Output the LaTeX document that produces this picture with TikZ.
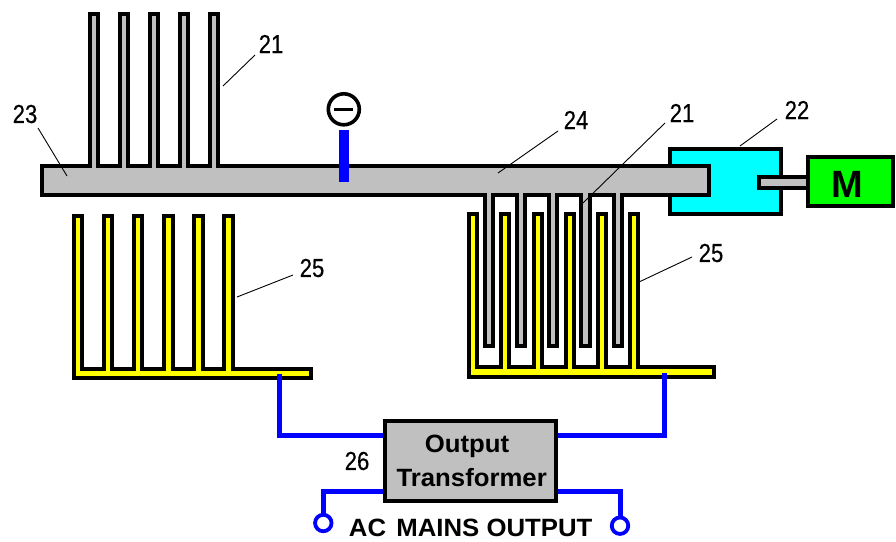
\documentclass[tikz,border=0pt]{standalone}
\usepackage{fontspec}
\setmainfont{Liberation Sans}
\newfontfamily\tagfont[FakeBold=0.5]{Liberation Sans}
\definecolor{mgray}{HTML}{C0C0C0}
\definecolor{mcyan}{HTML}{00FFFF}
\definecolor{myellow}{HTML}{FFFF00}
\definecolor{mgreen}{HTML}{00FF00}
\definecolor{mblue}{HTML}{0000FF}
\tikzset{
  outl/.style={draw=black,line width=4pt,line join=miter},
  box/.style={outl,rectangle,inner sep=0pt,outer sep=0pt,minimum width=#1},
  tag/.style={inner sep=0pt,font=\tagfont\fontsize{26}{26}\selectfont,xscale=.85,transform shape},
  caption/.style={inner sep=0pt,font=\fontsize{25}{25}\selectfont\bfseries,xscale=1.03,transform shape},
  leader/.style={draw=black,line width=.9pt},
  wire/.style={draw=mblue,line width=5pt,line join=miter},
  ring/.style={circle,draw=mblue,line width=3.8pt,fill=white,minimum size=16.5pt,inner sep=0pt,outer sep=0pt}
}
\begin{document}
\begin{tikzpicture}[x=1pt,y=-1pt]
\useasboundingbox[fill=white] (0,0) rectangle (896,541);
% left yellow comb
\foreach \c in {78.2,108.3,138.4,168.5,198.5,228.5}{
  \draw[outl,fill=myellow] (\c-4.05,375) -- (\c-4.05,216.2) -- (\c+4.05,216.2) -- (\c+4.05,375) -- cycle;}
\node[box=236.5,fill=myellow,minimum height=9.5pt,anchor=north west] (yl) at (74,368.6) {};
\foreach \c in {78.2,108.3,138.4,168.5,198.5,228.5}{
  \fill[myellow] (\c-2.05,360) rectangle (\c+2.05,374);}
% right yellow comb
\foreach \c in {473.2,505.4,537.6,569.8,602,633.6}{
  \draw[outl,fill=myellow] (\c-4.05,374) -- (\c-4.05,214) -- (\c+4.05,214) -- (\c+4.05,374) -- cycle;}
\node[box=245,fill=myellow,minimum height=9.5pt,anchor=north west] (yr) at (468.5,367) {};
\foreach \c in {473.2,505.4,537.6,569.8,602,633.6}{
  \fill[myellow] (\c-2.05,360) rectangle (\c+2.05,373);}
% cyan coupling
\node[box=111,fill=mcyan,minimum height=65.5pt,anchor=north west] (coupling) at (670,148.6) {};
% upper teeth
\foreach \c in {94.3,124.3,154.3,184.3,214.3}{
  \draw[outl,fill=mgray] (\c-4.05,175) -- (\c-4.05,14) -- (\c+4.05,14) -- (\c+4.05,175) -- cycle;}
% lower teeth
\foreach \c in {488.7,521,553.2,585.5,617.7}{
  \draw[outl,fill=mgray] (\c-4.05,185) -- (\c-4.05,346) -- (\c+4.05,346) -- (\c+4.05,185) -- cycle;}
% main bar
\node[box=667,fill=mgray,minimum height=28.6pt,anchor=north west] (bar) at (42,166) {};
\foreach \c in {94.3,124.3,154.3,184.3,214.3}{
  \fill[mgray] (\c-2.05,160) rectangle (\c+2.05,172);}
\foreach \c in {488.7,521,553.2,585.5,617.7}{
  \fill[mgray] (\c-2.05,188) rectangle (\c+2.05,200);}
% shaft and motor
\node[box=50,fill=mgray,minimum height=11pt,anchor=north west] (shaft) at (759,176.7) {};
\node[box=85,fill=mgreen,minimum height=49pt,anchor=north west] (motor) at (808,157) {};
\node[inner sep=0pt,font=\fontsize{38}{38}\selectfont\bfseries] (mlabel) at (847,184) {M};
% negative terminal
\node[circle,draw=black,line width=3.6pt,fill=white,minimum size=31pt,inner sep=0pt] (neg) at (343.8,109.3) {};
\draw[black,line width=3pt] (334,109.3) -- (353,109.3);
\coordinate (negA) at (344,130);
\coordinate (negB) at (344,182);
\draw[mblue,line width=10pt] (negA) -- (negB);
% transformer and wiring
\node[box=171,fill=mgray,minimum height=79.5pt,anchor=north west] (tr) at (385,421) {};
\coordinate (wl) at (279,374);
\coordinate (wr) at (664,373);
\node[ring] (ringL) at (323.3,523) {};
\node[ring] (ringR) at (620,525.7) {};
\draw[wire,shorten >=2pt] (wl) |- (tr.west |- 0,435.7);
\draw[wire,shorten >=2pt] (wr) |- (tr.east |- 0,435.7);
\draw[wire,shorten <=2pt] (tr.west |- 0,491.7) -| (ringL.north);
\draw[wire,shorten <=2pt] (tr.east |- 0,491.7) -| (ringR.north);
% texts
\node[caption] (t1) at (467,446) {Output};
\node[caption] (t2) at (471.7,478) {Transformer};
\node[caption] (ac) at (470.7,527.7) {AC\hspace{3pt} MAINS OUTPUT};
\node[tag] (n21a) at (271,44) {21};
\node[tag] (n23) at (25,114) {23};
\node[tag] (n24) at (576,120) {24};
\node[tag] (n21b) at (682,113) {21};
\node[tag] (n22) at (797,110) {22};
\node[tag] (n25r) at (711,253) {25};
\node[tag] (n25l) at (312,268) {25};
\node[tag] (n26) at (357,461) {26};
% leaders
\coordinate (a21a) at (255,55); \coordinate (b21a) at (223,86);
\coordinate (a23) at (38,128);  \coordinate (b23) at (67,176);
\coordinate (a24) at (558,131); \coordinate (b24) at (498,173);
\coordinate (a21b) at (665,123);\coordinate (b21b) at (583,203);
\coordinate (a22) at (777,119); \coordinate (b22) at (740,146);
\coordinate (a25r) at (692,257);\coordinate (b25r) at (639,282);
\coordinate (a25l) at (293,275);\coordinate (b25l) at (237,297);
\foreach \p in {21a,23,24,21b,22,25r,25l}{\draw[leader] (a\p) -- (b\p);}
\end{tikzpicture}
\end{document}
